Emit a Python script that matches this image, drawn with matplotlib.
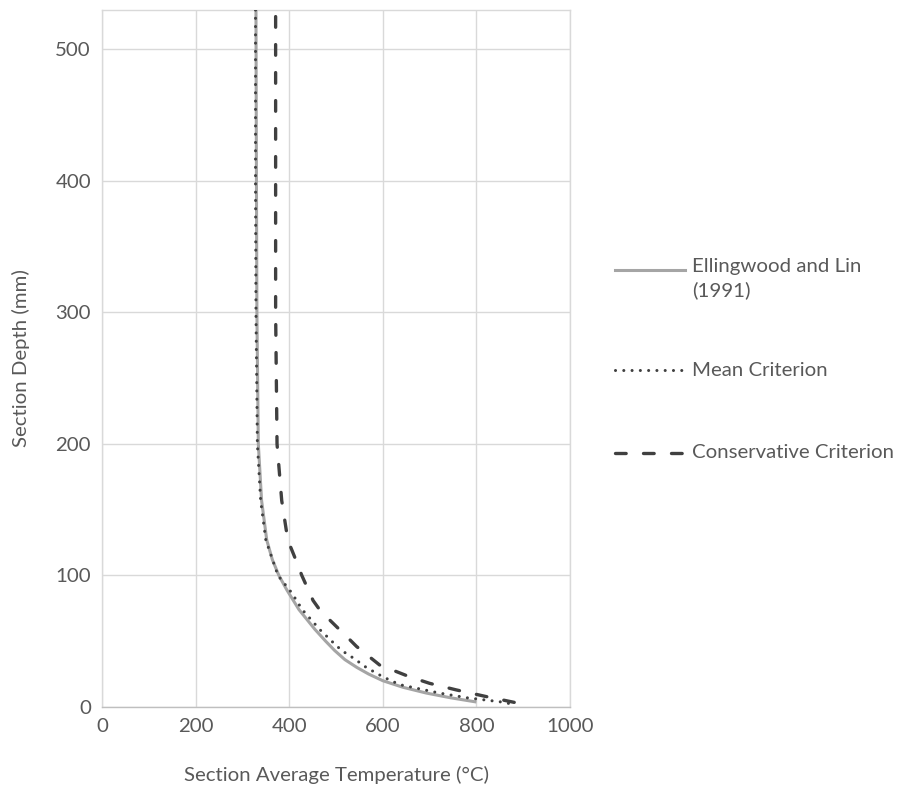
import matplotlib
matplotlib.use("Agg")
import matplotlib.pyplot as plt
from matplotlib.lines import Line2D

plt.rcParams['font.family'] = ['Lato', 'DejaVu Sans']

# Ellingwood and Lin (1991)
ell_depth = [530, 400, 300, 200, 157, 127, 112, 100, 89, 74, 59, 50, 43, 36, 30, 25, 20, 15, 10.6, 7, 3.8]
ell_temp = [329, 330, 331, 334, 341, 352, 364, 378, 395, 421, 455, 478, 497, 519, 545, 570, 600, 643, 693, 745, 800]

# Mean Criterion
mean_depth = [530, 400, 300, 200, 157, 127, 100, 87, 74, 59, 49, 43, 37, 30, 23, 17, 10.6, 7, 4, 2]
mean_temp = [328, 328, 329, 332, 339, 350, 376, 405, 428, 465, 494, 512, 538, 565, 600, 636, 721, 780, 850, 880]

# Conservative Criterion
cons_depth = [525, 400, 300, 200, 157, 127, 112, 100, 81, 74, 66, 51, 46, 36, 32, 23, 18, 13, 8, 3]
cons_temp = [371, 371, 371, 374, 384, 397, 414, 427, 451, 465, 487, 530, 544, 579, 593, 657, 700, 757, 820, 888]

x_ticks = [0, 200, 400, 600, 800, 1000]
y_ticks = [0, 100, 200, 300, 400, 500]

W, H = 911, 791
fig = plt.figure(figsize=(W / 100, H / 100), dpi=100)
ax = fig.add_axes([102 / W, 1 - 707 / H, (570 - 102) / W, (707 - 10) / H])

gray = '#A5A5A5'
dark = '#404040'
txt = '#595959'
fs = 14.7

ax.plot(ell_temp, ell_depth, color=gray, lw=2.2, solid_capstyle='butt',
        solid_joinstyle='round', zorder=3)
ax.plot(mean_temp, mean_depth, color=dark, lw=2.2, linestyle=(0, (0.01, 2.7)),
        dash_capstyle='round', zorder=4)
ax.plot(cons_temp, cons_depth, color=dark, lw=2.4, linestyle=(0, (3.2, 5.2)),
        dash_capstyle='round', zorder=4)

ax.set_xlim(0, 1000)
ax.set_ylim(0, 530)
ax.set_xticks(x_ticks)
ax.set_yticks(y_ticks)
ax.grid(True, color='#D9D9D9', lw=1.0, zorder=0)
ax.set_axisbelow(True)
ax.tick_params(length=0, labelsize=fs, colors=txt, pad=8)
for s in ['top', 'right', 'left']:
    ax.spines[s].set_color('#D9D9D9')
    ax.spines[s].set_linewidth(1.0)
ax.spines['bottom'].set_color('#BFBFBF')
ax.spines['bottom'].set_linewidth(1.0)

ax.set_xlabel('Section Average Temperature (°C)', fontsize=fs, color=txt, labelpad=22)
ax.set_ylabel('Section Depth (mm)', fontsize=fs, color=txt, labelpad=18)

# legend drawn at the right
entries = [
    ('Ellingwood and Lin\n(1991)', gray, '-', 2.2, 270),
    ('Mean Criterion', dark, (0, (0.01, 2.7)), 2.2, 370),
    ('Conservative Criterion', dark, (0, (3.2, 5.2)), 2.4, 453),
]
for label, c, ls, lw, ypx in entries:
    yf = 1 - ypx / H
    ln = Line2D([615 / W, 685 / W], [yf, yf], color=c, lw=lw, linestyle=ls,
                dash_capstyle='round', transform=fig.transFigure)
    fig.add_artist(ln)
    if '\n' in label:
        fig.text(692 / W, yf + 12 / H, label, fontsize=fs, color=txt, va='top',
                 ha='left', linespacing=1.45)
    else:
        fig.text(692 / W, yf, label, fontsize=fs, color=txt, va='center', ha='left')

fig.savefig('out.png', dpi=100)
